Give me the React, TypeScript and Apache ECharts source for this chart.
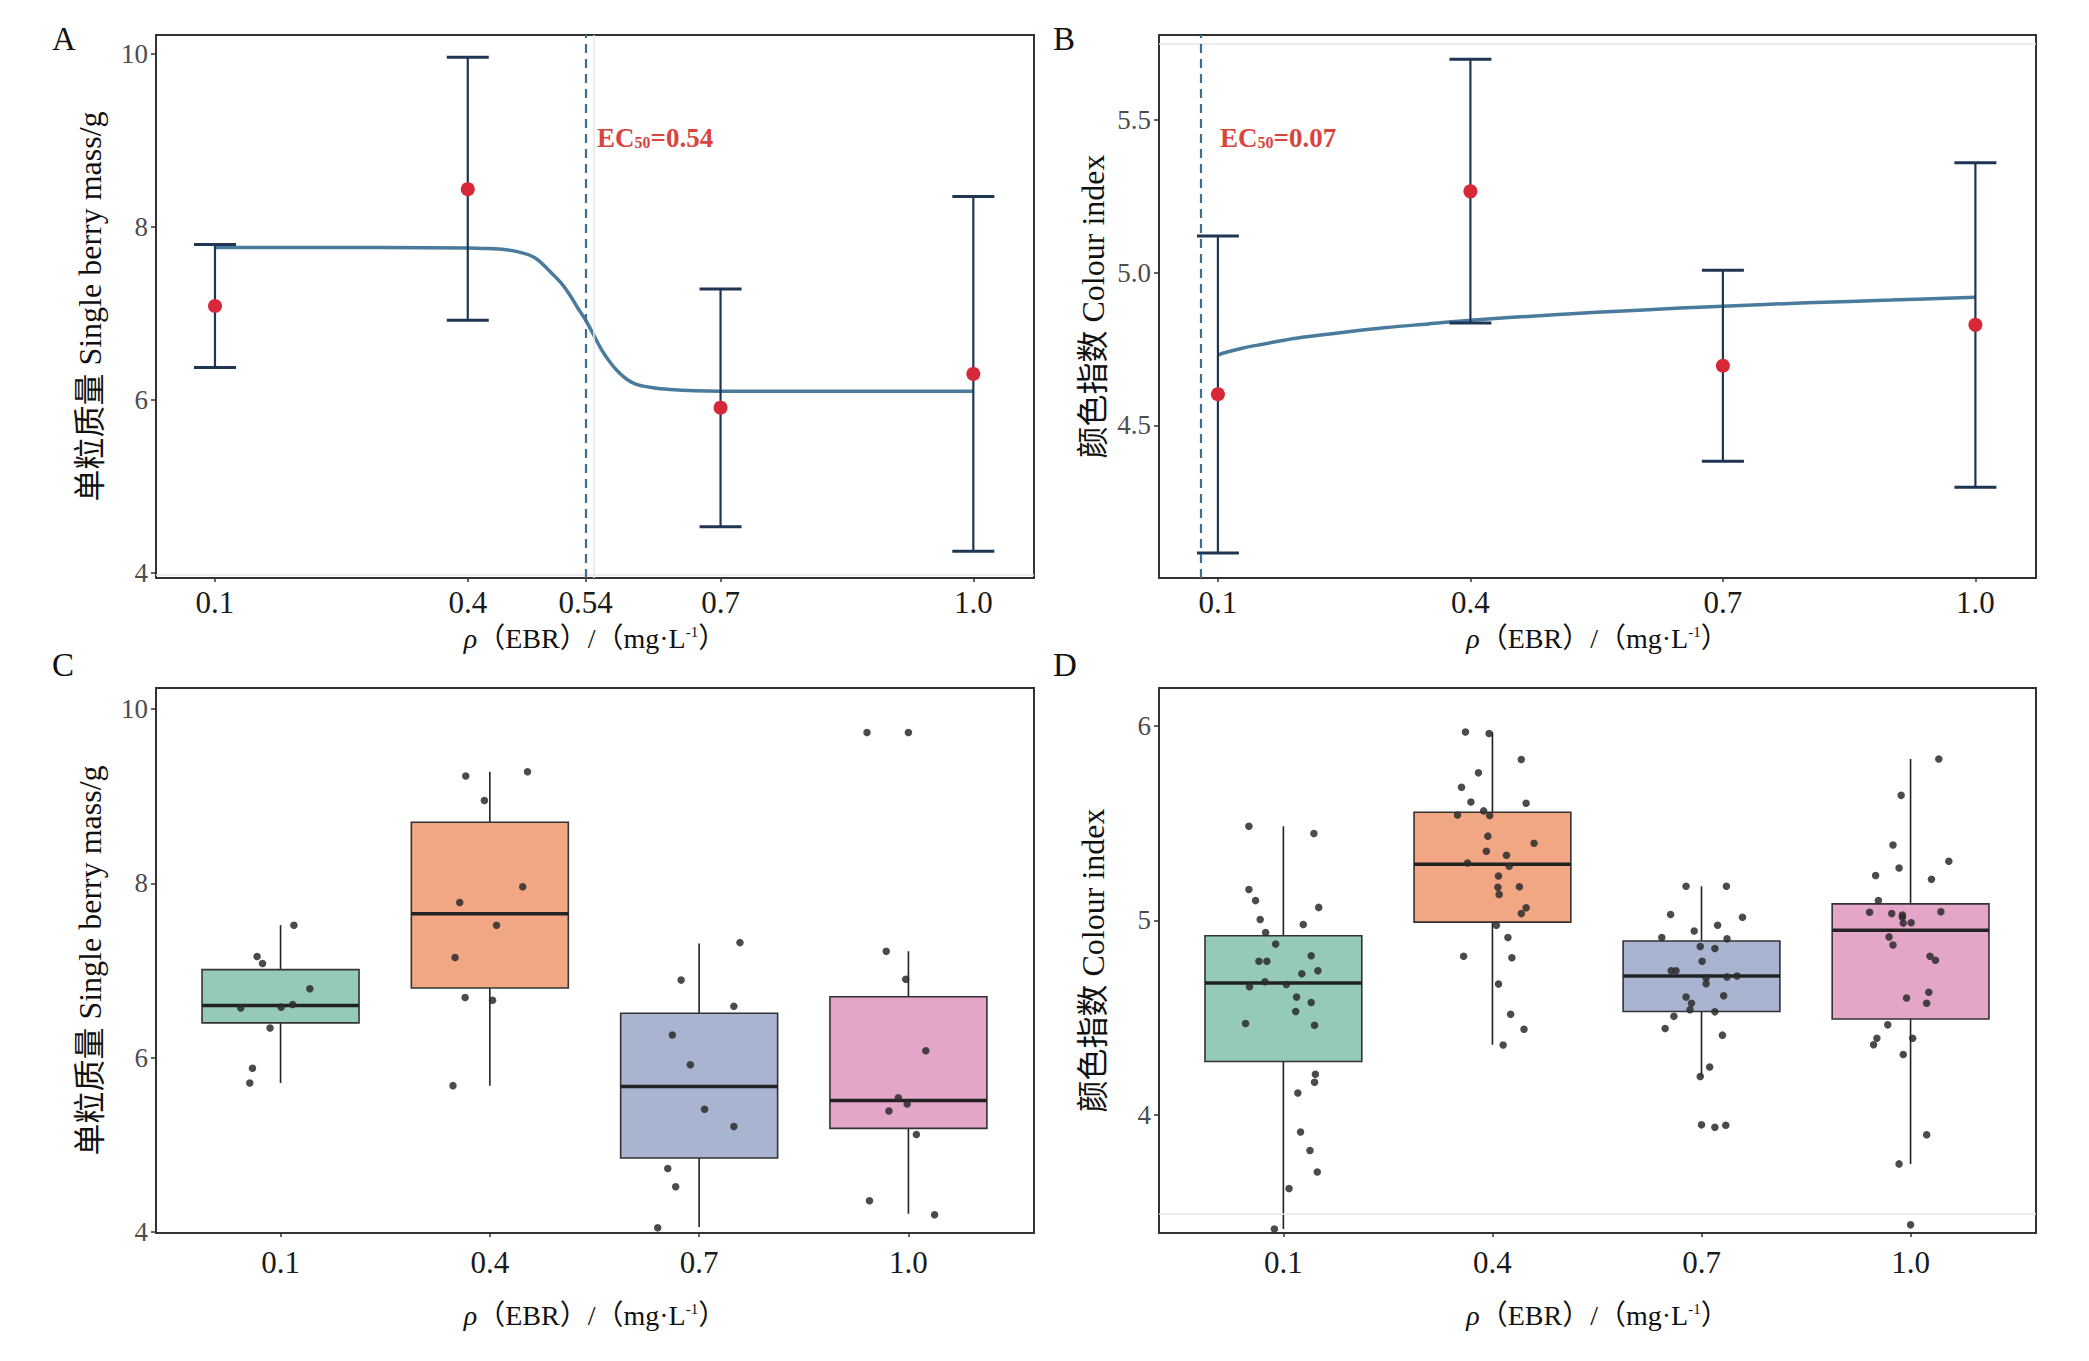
import { useEffect, useRef } from "react";
import * as echarts from "echarts";

// dose groups, ρ(EBR) in mg/L
const doseLabels = ["0.1", "0.4", "0.7", "1.0"];
const doseValues = [0.1, 0.4, 0.7, 1.0];

// A: single berry mass, mean and error bar
const massMean = [7.085, 8.435, 5.91, 6.3];
const massLow = [6.375, 6.92, 4.535, 4.25];
const massHigh = [7.795, 9.96, 7.28, 8.35];
// fitted dose-response curve
const massFitX = [0.1, 0.2, 0.3, 0.4, 0.42, 0.44, 0.46, 0.48, 0.5, 0.51, 0.52, 0.53, 0.54, 0.55, 0.56, 0.57, 0.58, 0.59, 0.6, 0.62, 0.64, 0.67, 0.7, 0.8, 1.0];
const massFitY = [7.76, 7.76, 7.76, 7.755, 7.75, 7.74, 7.71, 7.64, 7.46, 7.36, 7.23, 7.07, 6.92, 6.74, 6.56, 6.42, 6.31, 6.23, 6.18, 6.14, 6.12, 6.105, 6.1, 6.1, 6.1];
const massEC50 = 0.54;

// B: colour index, mean and error bar
const colourMean = [4.602, 5.266, 4.695, 4.829];
const colourLow = [4.082, 4.835, 4.382, 4.297];
const colourHigh = [5.12, 5.699, 5.008, 5.36];
const colourFitX = [0.1, 0.11, 0.13, 0.15, 0.18, 0.2, 0.25, 0.3, 0.35, 0.4, 0.5, 0.6, 0.7, 0.8, 0.9, 1.0];
const colourFitY = [4.73, 4.739, 4.753, 4.764, 4.779, 4.788, 4.805, 4.82, 4.832, 4.844, 4.862, 4.877, 4.89, 4.901, 4.91, 4.919];
const colourEC50 = 0.077;

// tick labels
const xTicksA = [0.1, 0.4, 0.54, 0.7, 1.0];
const xTickLabelsA = ["0.1", "0.4", "0.54", "0.7", "1.0"];
const yTicksMass = [4, 6, 8, 10];
const yTicksColourB = [4.5, 5.0, 5.5];
const yTickLabelsColourB = ["4.5", "5.0", "5.5"];
const yTicksColourD = [4, 5, 6];

// C: box stats [min, q1, median, q3, max]
const massBox = [
  [5.71, 6.4, 6.6, 7.01, 7.52],
  [5.68, 6.8, 7.65, 8.7, 9.28],
  [4.06, 4.85, 5.67, 6.51, 7.31],
  [4.21, 5.19, 5.51, 6.7, 7.22],
];
// C: raw berries [jitter, value]
const massPoints = [
  [[0.064, 7.52], [-0.112, 7.16], [-0.086, 7.08], [0.14, 6.79], [-0.19, 6.57], [0.003, 6.58], [0.058, 6.61], [-0.05, 6.34], [-0.134, 5.88], [-0.147, 5.71]],
  [[-0.115, 9.23], [0.18, 9.28], [-0.026, 8.95], [0.157, 7.96], [-0.144, 7.78], [0.032, 7.52], [-0.166, 7.15], [-0.118, 6.69], [0.013, 6.66], [-0.176, 5.68]],
  [[0.195, 7.32], [-0.086, 6.89], [0.166, 6.59], [-0.128, 6.26], [-0.042, 5.92], [0.026, 5.41], [0.166, 5.21], [-0.15, 4.73], [-0.112, 4.52], [-0.198, 4.05]],
  [[-0.198, 9.73], [0, 9.73], [-0.106, 7.22], [-0.013, 6.9], [0.083, 6.08], [-0.048, 5.54], [-0.093, 5.39], [-0.006, 5.47], [0.038, 5.12], [-0.186, 4.36], [0.125, 4.2]],
];

// D: box stats [min, q1, median, q3, max]
const colourBox = [
  [3.411, 4.273, 4.677, 4.921, 5.485],
  [4.36, 4.991, 5.289, 5.557, 5.97],
  [4.196, 4.531, 4.714, 4.894, 5.176],
  [3.746, 4.492, 4.949, 5.085, 5.831],
];
// D: raw berries [jitter, value]
const colourPoints = [
  [[-0.165, 5.485], [0.146, 5.448], [-0.165, 5.159], [-0.133, 5.102], [0.169, 5.067], [-0.111, 5.005], [0.095, 4.979], [-0.085, 4.938], [-0.037, 4.878], [0.133, 4.818],
   [-0.117, 4.79], [-0.079, 4.79], [0.165, 4.741], [0.088, 4.725], [-0.088, 4.684], [0.014, 4.67], [-0.162, 4.658], [0.063, 4.605], [0.133, 4.577], [0.059, 4.531],
   [-0.181, 4.469], [0.149, 4.46], [0.153, 4.208], [0.149, 4.166], [0.069, 4.111], [0.082, 3.91], [0.127, 3.815], [0.162, 3.704], [0.027, 3.619], [-0.043, 3.411]],
  [[-0.129, 5.97], [-0.016, 5.963], [0.138, 5.829], [-0.067, 5.76], [-0.148, 5.686], [-0.103, 5.61], [0.161, 5.603], [-0.167, 5.543], [-0.042, 5.564], [-0.013, 5.54],
   [-0.022, 5.434], [0.199, 5.397], [-0.029, 5.356], [0.067, 5.335], [-0.119, 5.296], [0.08, 5.279], [0.029, 5.229], [0.026, 5.171], [0.129, 5.173], [0.032, 5.134],
   [0.161, 5.065], [0.138, 5.035], [0.019, 4.975], [0.074, 4.912], [-0.138, 4.815], [0.093, 4.808], [0.029, 4.672], [0.087, 4.517], [0.151, 4.439], [0.051, 4.358]],
  [[-0.074, 5.176], [0.119, 5.176], [-0.148, 5.03], [0.196, 5.016], [0.077, 4.975], [-0.035, 4.945], [-0.19, 4.912], [0.122, 4.905], [-0.006, 4.866], [0.064, 4.855],
   [0.003, 4.79], [-0.145, 4.741], [-0.122, 4.741], [0.17, 4.714], [0.122, 4.709], [0.022, 4.704], [0.022, 4.674], [0.106, 4.612], [-0.074, 4.605], [-0.048, 4.573],
   [-0.055, 4.54], [0.064, 4.529], [-0.132, 4.506], [-0.174, 4.443], [0.1, 4.409], [0.039, 4.245], [-0.006, 4.196], [0, 3.947], [0.064, 3.935], [0.116, 3.945]],
  [[0.135, 5.831], [-0.045, 5.644], [-0.084, 5.388], [0.183, 5.305], [-0.055, 5.27], [-0.167, 5.231], [0.1, 5.212], [-0.154, 5.102], [-0.196, 5.042], [0.145, 5.044],
   [-0.09, 5.035], [-0.039, 5.028], [-0.039, 5.016], [0.003, 4.988], [-0.035, 4.986], [-0.103, 4.915], [-0.084, 4.873], [0.093, 4.815], [0.119, 4.795], [-0.019, 4.6],
   [0.087, 4.63], [0.077, 4.573], [-0.109, 4.462], [-0.161, 4.393], [0.01, 4.393], [-0.177, 4.36], [-0.035, 4.309], [0.077, 3.896], [-0.055, 3.746], [0, 3.432]],
];

const boxColors = ["#96cab8", "#f2a784", "#a9b4d0", "#e3a6c8"];

const SERIF = "'Liberation Serif', 'Times New Roman', 'Noto Sans CJK SC', serif";

export default function App() {
  const chartRef = useRef<HTMLDivElement>(null);

  useEffect(() => {
    document.body.style.margin = "0";
    let chart: echarts.ECharts | null = null;
    if (!chartRef.current) return;
    chart = echarts.init(chartRef.current, null, { renderer: "svg" });

    const grids = [
      { left: 156, top: 35, width: 878, height: 543 },
      { left: 1159, top: 35, width: 877, height: 543 },
      { left: 156, top: 688, width: 878, height: 545 },
      { left: 1159, top: 688, width: 877, height: 545 },
    ];

    const xTitle = "{i|ρ}{t|（EBR）/（mg·L}{s|-1}{t|）}";
    const xTitleStyle = {
      color: "#111",
      fontFamily: SERIF,
      rich: {
        i: { fontSize: 28, fontStyle: "italic", fontFamily: SERIF, color: "#111" },
        t: { fontSize: 28, fontFamily: SERIF, color: "#111" },
        s: { fontSize: 15, fontFamily: SERIF, color: "#111", verticalAlign: "top" },
      },
    };

    const findLabel = (ticks: number[], labels: string[]) => (v: number) => {
      const i = ticks.findIndex((t) => Math.abs(t - v) < 1e-6);
      return i >= 0 ? labels[i] : "";
    };

    const makeX = (gridIndex: number, min: number, max: number, ticks: number[], labels: string[], margin: number, gap: number) => ({
      type: "value",
      gridIndex,
      min,
      max,
      name: xTitle,
      nameLocation: "middle",
      nameGap: gap,
      nameTextStyle: xTitleStyle,
      axisLine: { show: false },
      splitLine: { show: false },
      axisTick: { show: true, length: 4, customValues: ticks, lineStyle: { color: "#333", width: 1.5 } },
      axisLabel: {
        customValues: ticks,
        formatter: findLabel(ticks, labels),
        fontSize: 31,
        fontFamily: SERIF,
        color: "#1a1a1a",
        margin,
      },
    });

    const makeY = (gridIndex: number, min: number, max: number, ticks: number[], labels: string[], name: string) => ({
      type: "value",
      gridIndex,
      min,
      max,
      name,
      nameLocation: "middle",
      nameGap: 50,
      nameTextStyle: { fontSize: 32, fontFamily: SERIF, color: "#111" },
      axisLine: { show: false },
      splitLine: { show: false },
      axisTick: { show: true, length: 5, customValues: ticks, lineStyle: { color: "#333", width: 1.5 } },
      axisLabel: {
        customValues: ticks,
        formatter: findLabel(ticks, labels),
        fontSize: 27,
        fontFamily: SERIF,
        color: "#4d4d4d",
        margin: 8,
      },
    });

    const errRender = (_params: any, api: any) => {
      const x = api.value(0);
      const lo = api.coord([x, api.value(1)]);
      const hi = api.coord([x, api.value(2)]);
      const w = 21;
      const stem = { stroke: "#1f3553", lineWidth: 2.2 };
      const cap = { stroke: "#1f3553", lineWidth: 3 };
      return {
        type: "group",
        children: [
          { type: "line", shape: { x1: lo[0], y1: lo[1], x2: hi[0], y2: hi[1] }, style: stem },
          { type: "line", shape: { x1: lo[0] - w, y1: lo[1], x2: lo[0] + w, y2: lo[1] }, style: cap },
          { type: "line", shape: { x1: hi[0] - w, y1: hi[1], x2: hi[0] + w, y2: hi[1] }, style: cap },
        ],
      };
    };

    const boxRender = (params: any, api: any) => {
      const x = api.value(0);
      const pLo = api.coord([x, api.value(1)]);
      const pQ1 = api.coord([x - 0.375, api.value(2)]);
      const pMedL = api.coord([x - 0.375, api.value(3)]);
      const pMedR = api.coord([x + 0.375, api.value(3)]);
      const pQ3 = api.coord([x + 0.375, api.value(4)]);
      const pHi = api.coord([x, api.value(5)]);
      return {
        type: "group",
        children: [
          { type: "line", shape: { x1: pHi[0], y1: pHi[1], x2: pLo[0], y2: pLo[1] }, style: { stroke: "#222", lineWidth: 1.6 } },
          {
            type: "rect",
            shape: { x: pQ1[0], y: pQ3[1], width: pQ3[0] - pQ1[0], height: pQ1[1] - pQ3[1] },
            style: { fill: boxColors[params.dataIndex], stroke: "#333", lineWidth: 1.6 },
          },
          { type: "line", shape: { x1: pMedL[0], y1: pMedL[1], x2: pMedR[0], y2: pMedR[1] }, style: { stroke: "#222", lineWidth: 3.5 } },
        ],
      };
    };

    const faint = { color: "#e6e6e6", type: "solid", width: 1.5 };

    const ecLabelRich = {
      a: { fontSize: 27, fontWeight: "bold", fontFamily: SERIF, fill: "#d9443f", color: "#d9443f" },
      b: { fontSize: 16, fontWeight: "bold", fontFamily: SERIF, fill: "#d9443f", color: "#d9443f", verticalAlign: "bottom" },
    };

    const catIdx = doseLabels.map((_, i) => i + 1);
    const letter = (text: string, left: number, top: number) => ({
      type: "text",
      left,
      top,
      style: { text, fontSize: 33, fontFamily: SERIF, fill: "#111" },
    });

    chart.setOption({
      animation: false,
      backgroundColor: "#ffffff",
      grid: grids.map((g) => ({ ...g, show: true, borderColor: "#333", borderWidth: 2, backgroundColor: "transparent" })),
      xAxis: [
        makeX(0, 0.03, 1.072, xTicksA, xTickLabelsA, 9, 46),
        makeX(1, 0.03, 1.072, doseValues, doseLabels, 9, 46),
        makeX(2, 0.405, 4.6, catIdx, doseLabels, 14, 68),
        makeX(3, 0.405, 4.6, catIdx, doseLabels, 14, 68),
      ],
      yAxis: [
        makeY(0, 3.942, 10.216, yTicksMass, yTicksMass.map(String), "单粒质量 Single berry mass/g"),
        makeY(1, 4.0, 5.778, yTicksColourB, yTickLabelsColourB, "颜色指数 Colour index"),
        makeY(2, 3.99, 10.24, yTicksMass, yTicksMass.map(String), "单粒质量 Single berry mass/g"),
        makeY(3, 3.39, 6.197, yTicksColourD, yTicksColourD.map(String), "颜色指数 Colour index"),
      ],
      graphic: [
        letter("A", 52, 22),
        letter("B", 1053, 22),
        letter("C", 52, 648),
        letter("D", 1053, 648),
        {
          type: "text",
          left: 597,
          top: 124,
          style: { text: "{a|EC}{b|50}{a|=" + massEC50.toFixed(2) + "}", rich: ecLabelRich, fill: "#d9443f" },
        },
        {
          type: "text",
          left: 1220,
          top: 124,
          style: { text: "{a|EC}{b|50}{a|=0.07}", rich: ecLabelRich, fill: "#d9443f" },
        },
      ],
      series: [
        // ---- A ----
        {
          type: "line",
          xAxisIndex: 0,
          yAxisIndex: 0,
          data: massFitX.map((x, i) => [x, massFitY[i]]),
          smooth: 0.35,
          symbol: "none",
          lineStyle: { color: "#4a7b9d", width: 3.5 },
          z: 3,
          markLine: {
            silent: true,
            symbol: "none",
            label: { show: false },
            data: [
              { xAxis: 0.55, lineStyle: faint },
              { yAxis: 3.98, lineStyle: faint },
              { xAxis: massEC50, lineStyle: { color: "#3d6e93", type: [9, 6], width: 2.2 } },
            ],
          },
        },
        {
          type: "custom",
          xAxisIndex: 0,
          yAxisIndex: 0,
          renderItem: errRender,
          data: doseValues.map((x, i) => [x, massLow[i], massHigh[i]]),
          encode: { x: 0, y: [1, 2] },
          z: 4,
        },
        {
          type: "scatter",
          xAxisIndex: 0,
          yAxisIndex: 0,
          data: doseValues.map((x, i) => [x, massMean[i]]),
          symbolSize: 14,
          itemStyle: { color: "#d7283a", opacity: 1 },
          z: 5,
        },
        // ---- B ----
        {
          type: "line",
          xAxisIndex: 1,
          yAxisIndex: 1,
          data: colourFitX.map((x, i) => [x, colourFitY[i]]),
          smooth: 0.35,
          symbol: "none",
          lineStyle: { color: "#4a7b9d", width: 3.5 },
          z: 3,
          markLine: {
            silent: true,
            symbol: "none",
            label: { show: false },
            data: [
              { yAxis: 5.752, lineStyle: faint },
              { xAxis: colourEC50, lineStyle: { color: "#3d6e93", type: [9, 6], width: 2.2 } },
            ],
          },
        },
        {
          type: "custom",
          xAxisIndex: 1,
          yAxisIndex: 1,
          renderItem: errRender,
          data: doseValues.map((x, i) => [x, colourLow[i], colourHigh[i]]),
          encode: { x: 0, y: [1, 2] },
          z: 4,
        },
        {
          type: "scatter",
          xAxisIndex: 1,
          yAxisIndex: 1,
          data: doseValues.map((x, i) => [x, colourMean[i]]),
          symbolSize: 14,
          itemStyle: { color: "#d7283a", opacity: 1 },
          z: 5,
        },
        // ---- C ----
        {
          type: "custom",
          xAxisIndex: 2,
          yAxisIndex: 2,
          renderItem: boxRender,
          data: massBox.map((b, i) => [i + 1, ...b]),
          encode: { x: 0, y: [1, 2, 3, 4, 5] },
          z: 2,
        },
        {
          type: "scatter",
          xAxisIndex: 2,
          yAxisIndex: 2,
          data: massPoints.flatMap((pts, i) => pts.map(([j, v]) => [i + 1 + j, v])),
          symbolSize: 7.5,
          itemStyle: { color: "#2b2b2b", opacity: 0.85 },
          z: 5,
        },
        // ---- D ----
        {
          type: "custom",
          xAxisIndex: 3,
          yAxisIndex: 3,
          renderItem: boxRender,
          data: colourBox.map((b, i) => [i + 1, ...b]),
          encode: { x: 0, y: [1, 2, 3, 4, 5] },
          z: 2,
        },
        {
          type: "scatter",
          xAxisIndex: 3,
          yAxisIndex: 3,
          data: colourPoints.flatMap((pts, i) => pts.map(([j, v]) => [i + 1 + j, v])),
          symbolSize: 7.5,
          itemStyle: { color: "#2b2b2b", opacity: 0.85 },
          z: 5,
          markLine: {
            silent: true,
            symbol: "none",
            label: { show: false },
            data: [{ yAxis: 3.487, lineStyle: faint }],
          },
        },
      ],
    } as any);

    return () => {
      if (chart) chart.dispose();
    };
  }, []);

  return <div ref={chartRef} style={{ width: 2089, height: 1361 }} />;
}
